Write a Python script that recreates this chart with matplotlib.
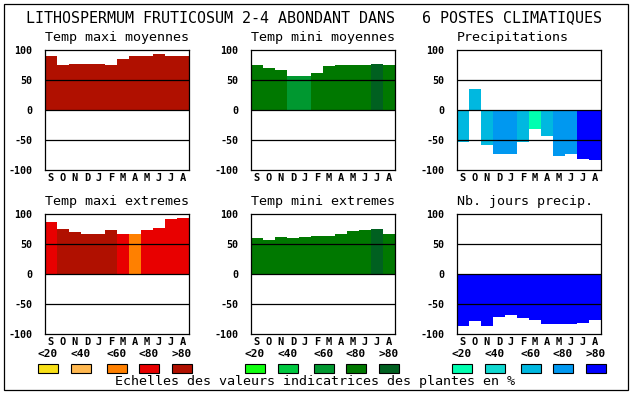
import matplotlib
matplotlib.use("Agg")
import matplotlib.pyplot as plt
from matplotlib.patches import Rectangle

plt.rcParams["axes.unicode_minus"] = False

# months (Sept -> Aug)
mois = ["S", "O", "N", "D", "J", "F", "M", "A", "M", "J", "J", "A"]

# colour scales (classes <20 <40 <60 <80 >80)
classes = ["<20", "<40", "<60", "<80", ">80"]
rouges = ["#F8E018", "#FFB850", "#FF8000", "#E80000", "#B01000"]
verts = ["#10FF10", "#00C840", "#009830", "#007800", "#006020"]
bleus = ["#00FFB0", "#10D8D0", "#00B8E0", "#0098F0", "#0000FF"]

# values + colour class of each month
tmax_moy = [90, 75, 77, 77, 77, 75, 85, 90, 90, 94, 90, 90]
tmax_moy_cl = [4, 4, 4, 4, 4, 4, 4, 4, 4, 4, 4, 4]

tmin_moy = [75, 70, 67, 57, 57, 62, 73, 75, 75, 75, 77, 75]
tmin_moy_cl = [3, 3, 3, 2, 2, 3, 3, 3, 3, 3, 4, 3]

precip = [-53, 35, -58, -73, -73, -53, -32, -43, -76, -74, -82, -84]
precip_cl = [2, 2, 2, 3, 3, 2, 0, 2, 3, 3, 4, 4]

tmax_ext = [87, 75, 70, 67, 67, 73, 67, 67, 73, 77, 92, 94]
tmax_ext_cl = [3, 4, 4, 4, 4, 4, 3, 2, 3, 3, 3, 3]

tmin_ext = [60, 57, 62, 60, 62, 64, 64, 67, 72, 74, 75, 67]
tmin_ext_cl = [3, 3, 3, 3, 3, 3, 3, 3, 3, 3, 4, 3]

nb_jours = [-86, -78, -86, -71, -68, -74, -76, -84, -84, -83, -81, -76]
nb_jours_cl = [4, 4, 4, 4, 4, 4, 4, 4, 4, 4, 4, 4]

W, H = 630, 394
MONO = "DejaVu Sans Mono"

fig = plt.figure(figsize=(W / 100, H / 100), dpi=100)


def rect(x0, y0, x1, y1):
    return [x0 / W, 1 - y1 / H, (x1 - x0) / W, (y1 - y0) / H]


def panneau(x0, y0, titre, vals, cl, pal):
    ax = fig.add_axes(rect(x0, y0, x0 + 144, y0 + 120))
    ax.bar(range(12), vals, width=1.0, color=[pal[c] for c in cl], zorder=1)
    for y in (50, 0, -50):
        ax.axhline(y, color="black", lw=0.9, zorder=2)
    ax.set_xlim(-0.5, 11.5)
    ax.set_ylim(-100, 100)
    ax.set_yticks([100, 50, 0, -50, -100])
    ax.set_xticks(range(12))
    ax.set_xticklabels(mois, family=MONO, fontweight="bold", fontsize=7.5)
    for t in ax.get_yticklabels():
        t.set_family(MONO)
        t.set_fontweight("bold")
        t.set_fontsize(7.2)
    ax.tick_params(axis="y", length=0, pad=9)
    ax.tick_params(axis="x", length=0, pad=2)
    for s in ax.spines.values():
        s.set_linewidth(0.9)
    fig.text(x0 / W, 1 - (y0 - 12) / H, titre, family=MONO, fontsize=9.6,
             ha="left", va="center")
    return ax


panneau(45, 50, "Temp maxi moyennes", tmax_moy, tmax_moy_cl, rouges)
panneau(251, 50, "Temp mini moyennes", tmin_moy, tmin_moy_cl, verts)
panneau(457, 50, "Precipitations", precip, precip_cl, bleus)
panneau(45, 214, "Temp maxi extremes", tmax_ext, tmax_ext_cl, rouges)
panneau(251, 214, "Temp mini extremes", tmin_ext, tmin_ext_cl, verts)
panneau(457, 214, "Nb. jours precip.", nb_jours, nb_jours_cl, bleus)

fig.text(26 / W, 1 - 18 / H,
         "LITHOSPERMUM FRUTICOSUM 2-4 ABONDANT DANS   6 POSTES CLIMATIQUES",
         family=MONO, fontsize=10.8, ha="left", va="center")

# colour scale legend
decal = [0, 33, 69, 101, 134]
for g0, pal in zip([38, 245, 452], [rouges, verts, bleus]):
    for d, lab, col in zip(decal, classes, pal):
        x = g0 + d
        fig.patches.append(Rectangle((x / W, 1 - 373 / H), 20 / W, 9 / H,
                                     transform=fig.transFigure, fc=col,
                                     ec="black", lw=0.8))
        fig.text((x + 10) / W, 1 - 354 / H, lab, family=MONO,
                 fontweight="bold", fontsize=8, ha="center", va="center")

fig.text(0.5, 1 - 382 / H, "Echelles des valeurs indicatrices des plantes en %",
         family=MONO, fontsize=9.6, ha="center", va="center")

fig.patches.append(Rectangle((4 / W, 1 - 390 / H), 624 / W, 386 / H,
                             transform=fig.transFigure, fill=False,
                             ec="black", lw=0.9))

fig.savefig("out.png", dpi=100)
